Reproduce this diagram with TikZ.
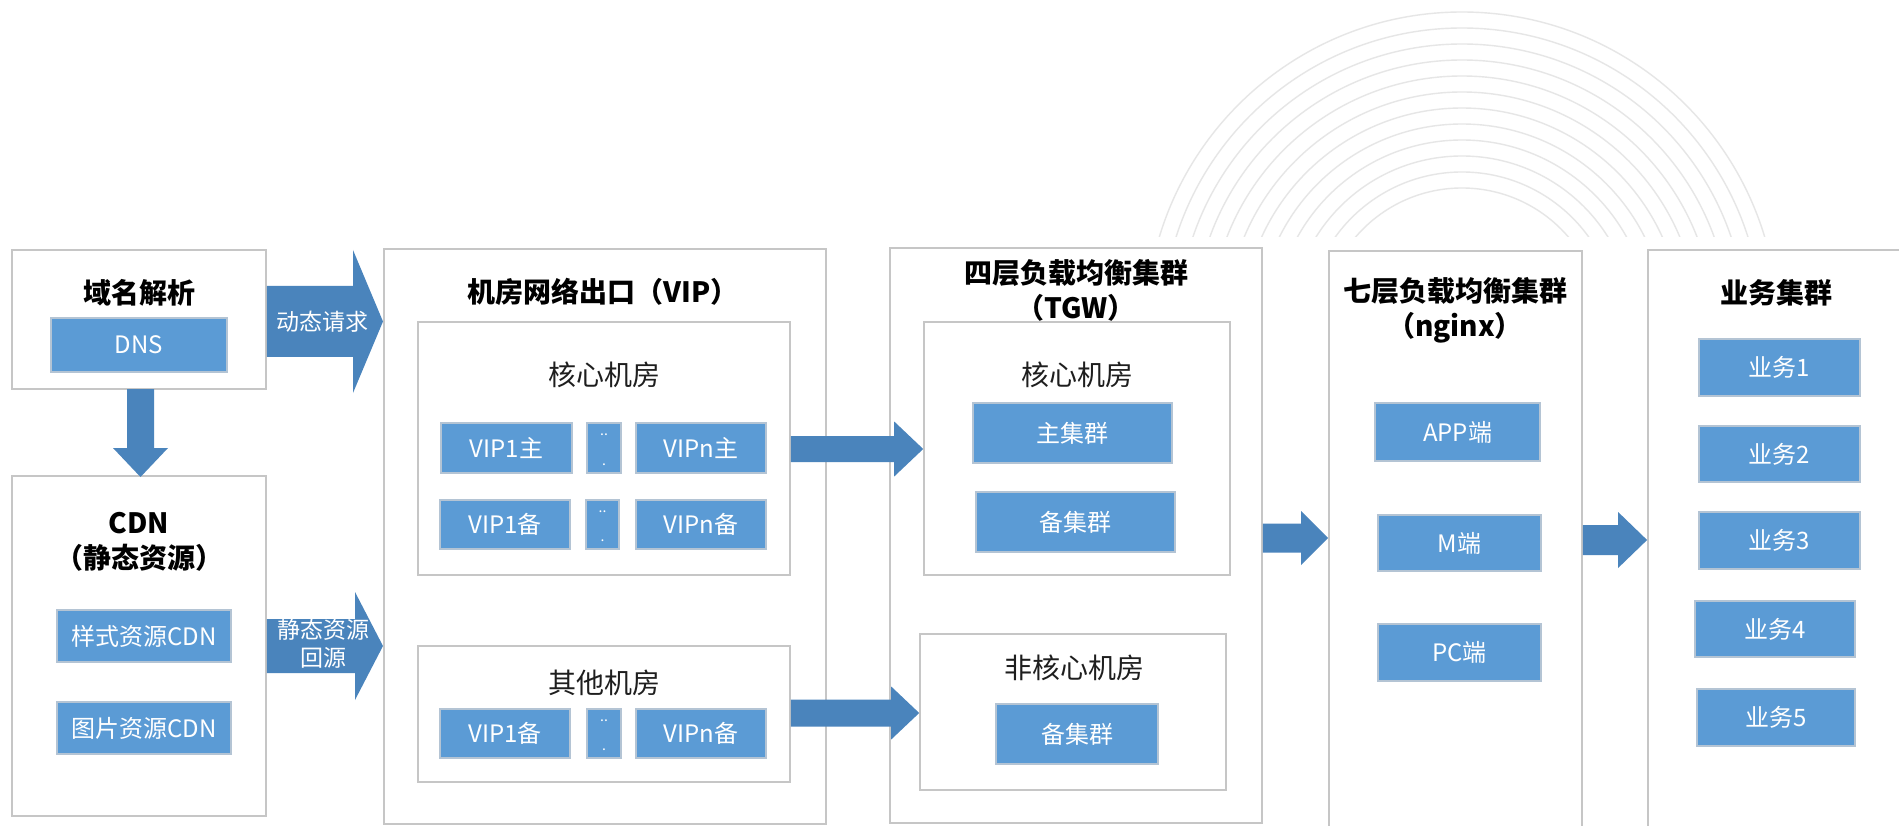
\documentclass[tikz,border=0pt]{standalone}
\usepackage{fontspec}
\setmainfont{Noto Sans CJK SC}
\usetikzlibrary{calc}
\definecolor{boxblue}{HTML}{5B9BD5}
\definecolor{boxedge}{HTML}{B4C4D4}
\definecolor{arrowblue}{HTML}{4A84BC}
\definecolor{panelgrey}{HTML}{C6C6C6}
\definecolor{arcgrey}{HTML}{E6E6E6}
\definecolor{subtext}{HTML}{1E1E1E}

\newcommand{\mkbox}[7]{%
  \pgfmathsetmacro{\mbcx}{(#3+#5)/2}\pgfmathsetmacro{\mbcy}{(#4+#6)/2}%
  \pgfmathsetmacro{\mbw}{#5-#3}\pgfmathsetmacro{\mbh}{#6-#4}%
  \node[#1, minimum width=\mbw pt, minimum height=\mbh pt] (#2) at (\mbcx,\mbcy) {#7};}

% block arrow: start, tip, shaft half height, head half height, head length
\newcommand{\harrow}[5]{%
  \fill[arrowblue] ($(#1)+(0,-#3)$) -- ($(#2)+(-#5,-#3)$) -- ($(#2)+(-#5,-#4)$) -- (#2)
    -- ($(#2)+(-#5,#4)$) -- ($(#2)+(-#5,#3)$) -- ($(#1)+(0,#3)$) -- cycle;}

\tikzset{
  panel/.style={draw=panelgrey, line width=1.8pt, fill=white, inner sep=0pt},
  subpanel/.style={draw=panelgrey, line width=1.6pt, fill=white, inner sep=0pt},
  bbox/.style={draw=boxedge, line width=1.4pt, fill=boxblue, text=white, inner sep=0pt,
    font=\fontsize{24}{28}\selectfont},
  ttl/.style={font=\fontsize{28}{35}\selectfont\bfseries, text=black, align=center, inner sep=0pt},
  subttl/.style={font=\fontsize{28}{34}\selectfont, text=subtext, inner sep=0pt},
  alabel/.style={font=\fontsize{23}{28}\selectfont, text=white, align=center, inner sep=0pt},
  dottext/.style={font=\fontsize{14}{14}\selectfont, text=white, inner sep=0pt},
  arcline/.style={draw=arcgrey, line width=1.4pt}
}

\begin{document}
\begin{tikzpicture}[x=1pt,y=-1pt]
\useasboundingbox (0,0) rectangle (1899,826);
\clip (0,0) rectangle (1899,826);
\fill[white] (0,0) rectangle (1899,826);

% decorative arcs
\begin{scope}
  \clip (1100,0) rectangle (1800,237);
  \foreach \r in {140,156,...,316} { \draw[arcline] (1462,328) circle[radius=\r pt]; }
\end{scope}

% ---- domain / CDN ----
\mkbox{panel}{dnsp}{12}{250}{266}{389}{}
\node[ttl] (dnst) at (139,293) {域名解析};
\mkbox{bbox}{dns}{51}{318}{227}{372}{DNS}

\mkbox{panel}{cdnp}{12}{476}{266}{816}{}
\node[ttl] (cdnt) at (139,542) {CDN\\（静态资源）};
\mkbox{bbox}{css}{57}{610}{231}{662}{样式资源CDN}
\mkbox{bbox}{img}{57}{702}{231}{754}{图片资源CDN}

% ---- VIP panel ----
\mkbox{panel}{vipp}{384}{249}{826}{824}{}
\node[ttl] (vipt) at (603,292) {机房网络出口（VIP）};
\mkbox{subpanel}{vcore}{418}{322}{790}{575}{}
\node[subttl] (vcoret) at (604,375) {核心机房};
\mkbox{bbox}{v1m}{441}{423}{572}{473}{VIP1主}
\mkbox{bbox}{vdm}{587}{423}{621}{473}{}
\mkbox{bbox}{vnm}{636}{423}{766}{473}{VIPn主}
\mkbox{bbox}{v1b}{440}{500}{570}{549}{VIP1备}
\mkbox{bbox}{vdb}{586}{500}{619}{549}{}
\mkbox{bbox}{vnb}{636}{500}{766}{549}{VIPn备}

\mkbox{subpanel}{vother}{418}{646}{790}{782}{}
\node[subttl] (vothert) at (604,683) {其他机房};
\mkbox{bbox}{o1b}{440}{709}{570}{758}{VIP1备}
\mkbox{bbox}{odb}{587}{709}{621}{758}{}
\mkbox{bbox}{onb}{636}{709}{766}{758}{VIPn备}

\foreach \d in {vdm,vdb,odb} {
  \node[dottext] at ($(\d.north)+(0,12)$) {..};
  \node[dottext] at ($(\d.south)+(0,-9)$) {.};
}

% ---- TGW panel ----
\mkbox{panel}{tgwp}{890}{248}{1262}{823}{}
\node[ttl] (tgwt) at (1076,290) {四层负载均衡集群\\（TGW）};
\mkbox{subpanel}{tcore}{924}{322}{1230}{575}{}
\node[subttl] (tcoret) at (1077,375) {核心机房};
\mkbox{bbox}{tmain}{973}{403}{1172}{463}{主集群}
\mkbox{bbox}{tbak}{976}{492}{1175}{552}{备集群}
\mkbox{subpanel}{tother}{920}{634}{1226}{790}{}
\node[subttl] (tothert) at (1074,668) {非核心机房};
\mkbox{bbox}{tobak}{996}{704}{1158}{764}{备集群}

% ---- nginx panel ----
\mkbox{panel}{ngp}{1329}{251}{1582}{900}{}
\node[ttl] (ngt) at (1455,310) {七层负载均衡集群\\（nginx）};
\mkbox{bbox}{app}{1375}{403}{1540}{461}{APP端}
\mkbox{bbox}{mend}{1378}{515}{1541}{571}{M端}
\mkbox{bbox}{pc}{1378}{624}{1541}{681}{PC端}

% ---- business panel ----
\mkbox{panel}{bzp}{1648}{250}{1920}{900}{}
\node[ttl] (bzt) at (1776,293) {业务集群};
\mkbox{bbox}{b1}{1699}{339}{1860}{396}{业务1}
\mkbox{bbox}{b2}{1699}{426}{1860}{482}{业务2}
\mkbox{bbox}{b3}{1699}{512}{1860}{569}{业务3}
\mkbox{bbox}{b4}{1695}{601}{1855}{657}{业务4}
\mkbox{bbox}{b5}{1697}{689}{1855}{746}{业务5}

% ---- arrows ----
\coordinate (a1s) at (dnsp.east |- 0,321.5);
\coordinate (a1e) at (383,321.5);
\harrow{a1s}{a1e}{35.5}{71.5}{30}
\node[alabel] (a1l) at (322,322) {动态请求};

\coordinate (a2s) at (cdnp.east |- 0,646);
\coordinate (a2e) at (383,646);
\harrow{a2s}{a2e}{27}{54}{28}
\node[alabel] (a2l) at (323,644) {静态资源\\回源};

% down arrow
\coordinate (d0) at (140.5,389);
\coordinate (d1) at (140.5,477);
\fill[arrowblue] ($(d0)+(-13.5,0)$) -- ($(d1)+(-13.5,-29)$) -- ($(d1)+(-27.5,-29)$) -- (d1)
  -- ($(d1)+(27.5,-29)$) -- ($(d1)+(13.5,-29)$) -- ($(d0)+(13.5,0)$) -- cycle;

\coordinate (a3s) at (vcore.east |- 0,449);
\coordinate (a3e) at (tcore.west |- 0,449);
\harrow{a3s}{a3e}{13}{27.5}{29}

\coordinate (a4s) at (vother.east |- 0,713);
\coordinate (a4e) at (tother.west |- 0,713);
\harrow{a4s}{a4e}{13.5}{26.5}{28}

\coordinate (a5s) at (tgwp.east |- 0,538);
\coordinate (a5e) at (ngp.west |- 0,538);
\harrow{a5s}{a5e}{14.5}{27}{27}

\coordinate (a6s) at (ngp.east |- 0,540);
\coordinate (a6e) at (bzp.west |- 0,540);
\harrow{a6s}{a6e}{15}{28}{29}
\end{tikzpicture}
\end{document}
